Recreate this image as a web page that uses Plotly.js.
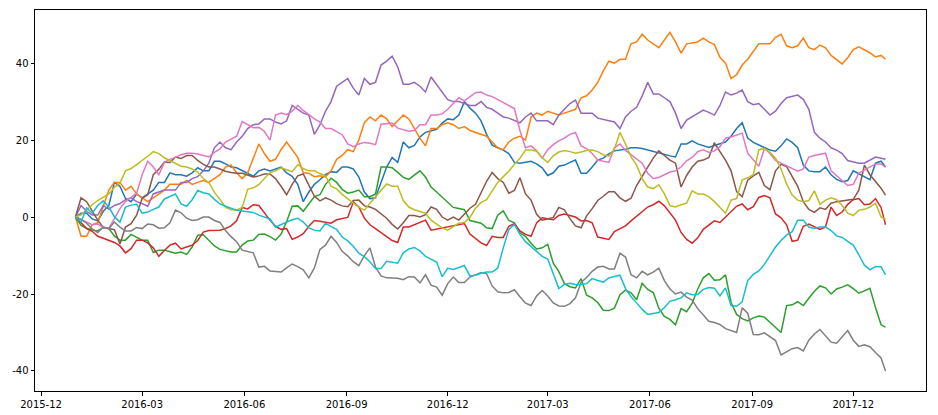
<!DOCTYPE html>
<html>
<head>
<meta charset="utf-8">
<script src="https://cdn.plot.ly/plotly-3.0.1.min.js"></script>
<style>
html,body{margin:0;padding:0;background:#fff;}
#chart{width:938px;height:415px;}
</style>
</head>
<body>
<div id="chart"></div>
<script>
// Sample positions: every 5 days after 2016-01-01, plus the last day (729)
const startDate = '2016-01-01';
const sampleDays = [...Array(146).keys()].map(j => j*5).concat([729]);

const seriesBlue = [
  0,1,1,-0.5,-1,1.5,3,9,8,4.8,
  4,6,5,6,7,9,9,11.5,11,11,
  10.6,11.5,12.8,12,12,14.5,14.5,13.8,13,12.8,
  12,11.2,10.6,12,12.5,12,12.5,13,11.5,10.6,
  8.5,4,6.5,8.5,9.7,11,11.8,11.6,13,13,
  12.5,10.4,6.5,4.8,5,9,13,15.5,14.2,19.5,
  18,18.6,20.8,22,22.5,22.8,24.4,25.5,25.3,26.5,
  30,28.3,27,25,21.5,18.7,18,17.4,16.5,14.2,
  14,14.3,14.5,13.8,12.8,10.8,11.5,13.2,13.5,14.2,
  14.8,11.4,11.4,13,14.8,15.3,16.4,17.2,17.4,17.6,
  18,18,17.8,17.4,17,16.5,16.2,15.9,15.6,19,
  19,19.8,19,18.5,18.1,18.6,19.1,19.5,21,23,
  24.5,20.5,19.4,18.8,18.2,17.4,17.1,18.5,20.3,19.4,
  18,13.5,12,11.8,11.8,13,11,9.8,9.2,9.5,
  12,11.2,10.5,9.7,14,14.5,13];
const seriesOrange = [
  0,-5,-5,-2,-1.5,2.5,7,9,9,7,
  8,6,5,4,5,6,7,8.5,8.5,8.5,
  9.5,8.5,9,9.5,9,10,11,13,13.5,11.5,
  10,11.5,15,19,16.5,14.5,15,17.5,19.5,17.5,
  15.5,11.5,11.4,10.5,10.7,10.4,12,15,16,17.5,
  17,20,24.5,26,25,26.5,25.5,23.5,25,26.5,
  25.5,23,20.5,18.5,23,23,24,24.5,24,23,
  23.5,22.5,22,21.5,21,19.5,18,17.5,19.5,20.5,
  21,20,26,27,26.5,27.5,27,26.5,27,27.5,
  28,31,31.5,33,35,38,40.5,40,41,41,
  45,45.5,47.5,46,45,44,46,48,45.5,42.6,
  45,45.2,45.5,46.5,45.5,44.8,41.5,40,36,37,
  39.5,41,43,45,45,45,46.7,47.5,44.5,44,
  44.5,46.5,44,43.5,44.7,44,42,41,39.8,41.4,
  43.5,44.2,43.5,42.7,41.6,42,41];
const seriesGreen = [
  0,-2.2,-2.9,-3.4,-3.6,-2.7,-3,-4.9,-6,-6,
  -4.5,-5.2,-6,-6,-9.2,-8.6,-8.6,-9,-9.4,-9.1,
  -9.7,-7.8,-4.7,-4.6,-6,-7.5,-8.4,-8.8,-9.1,-9.1,
  -7.3,-6.2,-6,-4.5,-4.4,-5.1,-6,-4.4,-1.2,2.8,
  2.9,1.5,3.3,5.3,5.8,8.5,10.1,9,7.2,6.2,
  6.5,7,5.3,5.3,6,13,13,12.8,11.6,10.3,
  9.8,11,12,10.4,7.8,6.5,5.1,3.9,2.5,2.2,
  1.9,-0.9,-1.3,-1.6,-2.8,-3,0.5,1.6,-0.9,-1.5,
  -4.1,-5,-6.8,-8.3,-8,-7.1,-12,-14.2,-17.3,-18.1,
  -18.4,-16,-20.3,-21,-22.2,-24.2,-24.3,-23.7,-20.2,-19,
  -19.7,-21.5,-17.2,-18.8,-19.6,-23.7,-25.8,-26.6,-28,-23.8,
  -24.6,-22.4,-18.7,-15.8,-14.7,-16.4,-16.3,-15,-22.2,-25.3,
  -26.4,-27,-26.2,-25.7,-26,-27.4,-28.6,-30,-23,-22.8,
  -22,-23,-21.1,-19.3,-17.9,-18.4,-20,-18.7,-18.2,-17.6,
  -18.6,-19.8,-19.2,-18.5,-23.5,-28,-28.6];
const seriesRed = [
  0,-1.5,-3,-3.7,-5,-5.5,-6,-6.6,-7.5,-9.3,
  -8.2,-6,-6,-6.7,-8,-10.2,-8.7,-7.3,-6.8,-8.3,
  -7.8,-7.3,-6.1,-3.9,-3.5,-3.4,-3.4,-3,-2.3,-1,
  2.5,2.1,3.2,3,1,-0.8,-2.4,-3.2,-3,-5.8,
  -5.2,-4.3,-2.4,-0.9,-1.1,-1.4,-1.6,-0.7,-0.4,-0.1,
  3.9,2.6,-0.3,-2,-3,-4.1,-5.2,-6.1,-6.6,-2.6,
  -2.6,-2,-1.2,-0.8,-3.4,-3.1,-2.8,-2.6,-2.4,-2,
  -1.7,-4.4,-5.5,-6.7,-7.4,-5,-5.3,-5.3,-2.4,-1.7,
  -3.6,-4.5,-5,-1.5,-0.2,-0.5,-0.7,0.4,0.8,0.4,
  0,-1,-0.9,-1.5,-5.2,-5.5,-5.8,-3.8,-3,-2.3,
  -1,0.2,1.2,2.6,3.2,4.1,2.9,1.1,-0.8,-4,
  -5.8,-6.8,-5.4,-3.2,-2.2,-1,-1.4,0,1.6,2.8,
  3.4,1.9,2.7,5.1,5.6,5,0.8,-0.2,-2,-6.3,
  -6,-2.4,-1.8,-2.4,-3.2,-2.6,2.6,0.4,1.3,3.3,
  4.5,4.8,3.2,3.4,4.8,2.5,-2];
const seriesPurple = [
  0,3,1.5,0.5,0.5,3,2,3,3.5,4.5,
  5,4,3.5,2.8,6,6.5,7,7,7,9,
  9,10,10.5,12,14,18,19.5,18,17.5,19.5,
  21,23,24,24.2,25.5,25.5,24.7,24.2,25,29,
  28,27,26.5,21.5,24,27.5,30,34,35,36,
  33.5,31.7,36,34.5,35,39.5,40.5,41.8,39,34.5,
  34.5,35,34,32.5,36.4,34.5,32.5,30.5,30,30,
  29.5,29,29,30,28.5,28,27,26,25.7,25,
  24.5,26,27,25,25,25,24,26.5,28,29.5,
  30.4,27,27,27,25.7,25.3,25,24.7,23,26,
  27.5,28.5,31.5,35,32,32,31,30,27,23,
  25.2,26,27,27.8,27.2,26.5,29,32.5,31.7,32.2,
  33,30,29.2,29.5,28,26.5,27.5,29.5,31,31.3,
  31.7,30.6,28,22,20.5,19.5,18,17.4,16.5,14.7,
  14.4,14,14,14.8,15.6,15.3,15];
const seriesBrown = [
  0,5,4,1.5,-0.8,-2.7,-3,-3.3,-7,-2.6,
  -1.7,0.5,4.9,5.8,11,12.4,14.3,14.2,15.6,15.2,
  16,16,14.7,13.7,13,13,12.5,11.9,11.6,11.4,
  11.4,11,10.4,10.7,11.2,11.2,10,8,5.8,8.5,
  10.7,11.2,8.5,5.4,4.2,5,4.4,3.5,2.9,2.7,
  4.3,4.4,2.9,2.6,2,0.9,-0.3,-1.9,-3.1,-1.5,
  0.4,0.4,0,0.6,2.6,2,0,-0.8,0,-0.8,
  0.7,2.3,3.3,6.3,9.3,11.6,10,9,6.2,6.9,
  10.2,6,4.4,0.7,-0.8,-0.5,-0.1,2.5,1.9,-0.4,
  -2.3,-2.8,0.3,2.2,4.3,5.4,6.6,6.6,5,4.1,
  4.9,8.2,10.7,13,15.3,17.2,16,14.8,14,7.8,
  10.8,13,14.5,14.8,15.5,19.3,17,14.8,12,6.6,
  5.3,9.6,10.7,11.6,8.2,7.1,12,13.7,13.1,10.7,
  8,4,2,1.2,2.4,2,3.6,4,4.2,4.4,
  4.6,7,13.5,11,9.3,7.5,5.7];
const seriesPink = [
  0,-0.6,-1.3,-2,-1.8,-2.7,-3,-0.5,2.2,4,
  5,6.2,11,14.5,13,11,14.2,15,15.5,16.2,
  16.6,16.6,16.4,16,15.6,16.8,17.7,19.5,20.3,21,
  24.8,24,23.2,23.3,22.3,20,26.5,27,26.6,27.5,
  29,27.7,26.6,25.5,24.7,23,23,22.3,21.4,19,
  18.3,19,19.4,19.2,18.8,24.1,24.3,24.4,23.1,22.6,
  22.3,22.5,24,24,26.5,26.5,26.8,28,29.5,31,
  30.2,31.3,32.3,32.5,31.7,31.3,30.5,29.8,29,28.2,
  22.5,18,18.5,17.2,15.3,17.5,18.8,19.8,20.5,21.5,
  22,18.5,17.8,16.5,14.8,14.5,14.2,18,19,17.3,
  16.2,15.2,14,11.4,10,10.3,11,11.7,12,13,
  14.6,15.5,17,17.5,16.8,17.2,18.3,20.5,20.8,21.3,
  21.8,16.6,15,13.2,17.8,16.5,14.7,14,13.5,12.8,
  11.9,12.5,15.6,16,16.3,16.6,12,10.8,9.5,8.2,
  8.5,11.4,12.2,12.9,13.8,13.8,13];
const seriesGray = [
  0,-0.6,-1.6,-3.1,-4,-2.6,-3,-1.3,-2.6,-3.6,
  -3.6,-2.7,-3,-1.8,-2,-2.9,-2.8,-1.5,1.8,1.1,
  -0.3,-0.9,-0.7,0,0,-0.9,-1.4,-3.5,-5.1,-6.4,
  -8.6,-9,-9.3,-13,-12.8,-14,-14.2,-14.3,-13.2,-12.2,
  -12.9,-13.7,-15.8,-13.2,-8.4,-7.3,-5,-6.6,-8.9,-10.1,
  -11.6,-12.6,-10,-8,-13,-15.3,-15.8,-15.8,-15.9,-16.3,
  -15.5,-15.6,-17.1,-15,-17.7,-18.2,-20.3,-17.3,-15.6,-17,
  -17,-15.6,-14.9,-14.4,-14.7,-17.9,-19.4,-19.7,-19.6,-18.9,
  -20.7,-22.4,-23,-20.5,-19.1,-20.5,-22.3,-23.1,-23.2,-22.5,
  -21,-17,-15.7,-14.1,-13,-12.8,-13.5,-13.5,-9.4,-10.4,
  -15,-15.8,-14.1,-15,-14.3,-13.3,-16.5,-18.7,-20,-19.5,
  -20.8,-21.6,-23.8,-25.5,-27.1,-27.4,-27.9,-29,-29.6,-30,
  -23.6,-25,-30.5,-30.6,-30.1,-31,-32.1,-35.8,-35.1,-34.2,
  -33.9,-34.8,-32,-30.4,-29.2,-31,-32.5,-32.8,-31,-29.5,
  -32,-33.6,-33.2,-33.7,-35.2,-36.6,-40];
const seriesOlive = [
  0,0.6,1.8,3.2,4.3,5.2,6,7.7,8.8,12,
  12.6,13.6,14.6,15.8,17,16.5,15.4,14.7,14,13.2,
  13,12.5,11.7,10,9,6.4,4.6,2.6,1.9,1.8,
  2.5,7.2,7.6,8.4,10,11.5,12,12.8,12.3,11.8,
  13.6,12.6,12,12,11.3,10.7,8,7.3,5.9,4.7,
  3.6,2.6,1.8,3.6,5.3,7.2,8.6,8,8,4.3,
  2.6,1.9,1.4,1,-0.8,-1.7,-2.8,-3.4,-2.5,-1.6,
  -1.4,-0.1,2.3,3.8,4.5,6.6,9,10.5,11.9,13.7,
  15.3,17.4,17.4,17.1,15.4,14.2,15.9,16.9,17.3,17,
  16.6,16.9,17.3,17.4,17,16.2,15.8,17.6,22,19,
  15.6,13.5,10,7.8,7.4,8.4,6,3,2.6,3.2,
  3.6,6.8,6,6,5.3,4,2.4,1,4.4,4.8,
  9.7,10.2,11,17.5,17.8,16.8,15.3,12.5,8.6,5.7,
  4.4,4,4.3,6.8,3.3,4.4,5,4.5,3,1,
  0.4,1.8,2,2.6,3.6,0,-0.5];
const seriesCyan = [
  0,-1.3,2.4,1,3,4.2,2.6,0.1,-1.3,2.6,
  3.1,3.3,1,1.3,2,2.6,4.7,5.4,6,3.4,
  2.8,4.5,6.9,6.3,6,4.6,3.4,2.8,2.3,1.8,
  1.6,1.4,1.2,0.5,0,-0.5,-2.6,-1.9,-1.3,-0.7,
  -0.3,-1.3,-2.8,-3.4,-3.6,-1.6,-2.5,-3.2,-5.2,-6.2,
  -7.6,-9.4,-10.3,-11.6,-13.4,-13.4,-11.5,-11.7,-12,-9.3,
  -8.3,-7.9,-8.8,-10.2,-11,-11.7,-15.5,-13.3,-13.6,-13,
  -12.6,-15.3,-15.1,-14.6,-14.3,-14.3,-13.3,-8,-3.2,-1.9,
  -4.5,-6.4,-7.7,-8.8,-10.2,-10.9,-14.6,-18.6,-17.5,-17.2,
  -17.5,-17.6,-17.3,-16,-16.5,-16.9,-15.8,-15.5,-15.1,-18.6,
  -20.7,-22.3,-24,-25.3,-25,-24.8,-23.5,-21.9,-21.5,-21,
  -19.7,-20.2,-20.1,-18.8,-18.3,-18.5,-20.5,-18.4,-23,-23.2,
  -22,-16.5,-14.9,-14,-12.3,-9.9,-7.8,-6.1,-4.7,-3.8,
  -0.8,-0.8,-2.6,-3,-2.6,-2.6,-3.5,-4.9,-5.3,-6.3,
  -7.3,-9.8,-12.5,-13.7,-12.9,-12.9,-15];

const tickDates = ['2015-12-01','2016-03-01','2016-06-01','2016-09-01','2016-12-01',
  '2017-03-01','2017-06-01','2017-09-01','2017-12-01'];
const tickLabels = ['2015-12','2016-03','2016-06','2016-09','2016-12',
  '2017-03','2017-06','2017-09','2017-12'];
const yTicks = [-40,-20,0,20,40];

const allSeries = [seriesBlue, seriesOrange, seriesGreen, seriesRed, seriesPurple,
  seriesBrown, seriesPink, seriesGray, seriesOlive, seriesCyan];
const colors = ['#1f77b4','#ff7f0e','#2ca02c','#d62728','#9467bd',
  '#8c564b','#e377c2','#7f7f7f','#bcbd22','#17becf'];

allSeries.forEach((s,i)=>{
  if (s.length !== sampleDays.length) {
    throw new Error('series ' + i + ' has ' + s.length + ' values, expected ' + sampleDays.length);
  }
});

function dayToDate(d){
  const t = new Date(startDate + 'T00:00:00Z').getTime() + d*86400000;
  return new Date(t).toISOString().slice(0,10);
}
const xDates = sampleDays.map(dayToDate);

const traces = allSeries.map((ys,i)=>({
  x: xDates, y: ys, type:'scatter', mode:'lines',
  line:{color:colors[i], width:1.5}, showlegend:false, hoverinfo:'skip'
}));

const axisCommon = {
  showgrid:false, zeroline:false, showline:true, mirror:true,
  linecolor:'#000', linewidth:1, ticks:'outside', ticklen:3.5, tickwidth:1,
  tickcolor:'#000', tickfont:{family:'DejaVu Sans', size:10, color:'#000'}
};

const layout = {
  width:938, height:415,
  margin:{l:35, r:12, t:10, b:24},
  paper_bgcolor:'#fff', plot_bgcolor:'#fff',
  xaxis: Object.assign({}, axisCommon, {
    type:'date', range:['2015-11-25 13:12','2018-02-04 10:48'],
    tickmode:'array', tickvals:tickDates, ticktext:tickLabels
  }),
  yaxis: Object.assign({}, axisCommon, {
    range:[-45.2,53.8], tickmode:'array', tickvals:yTicks, ticktext:yTicks.map(String)
  }),
  showlegend:false
};

Plotly.newPlot('chart', traces, layout, {staticPlot:true, displayModeBar:false});
</script>
</body>
</html>
